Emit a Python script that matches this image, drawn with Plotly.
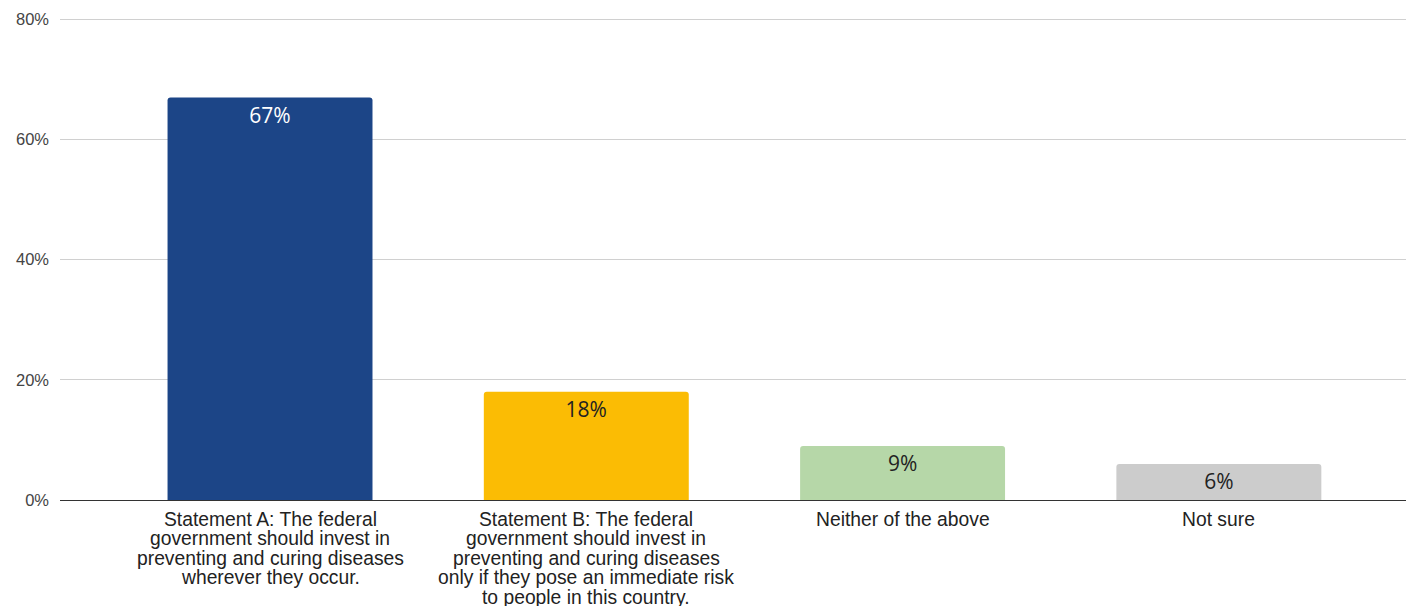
import plotly.graph_objects as go

categories = [
    "Statement A: The federal<br>government should invest in<br>preventing and curing diseases<br>wherever they occur.",
    "Statement B: The federal<br>government should invest in<br>preventing and curing diseases<br>only if they pose an immediate risk<br>to people in this country.",
    "Neither of the above",
    "Not sure",
]
values = [67, 18, 9, 6]
labels = ["67%", "18%", "9%", "6%"]
colors = ["#1c4587", "#fbbc04", "#b6d7a8", "#cccccc"]
label_colors = ["#ffffff", "#222222", "#222222", "#222222"]
y_ticks = [0, 20, 40, 60, 80]
y_tick_text = ["0%", "20%", "40%", "60%", "80%"]

xs = list(range(len(categories)))

fig = go.Figure(
    go.Bar(
        x=xs,
        y=values,
        text=labels,
        textposition="inside",
        insidetextanchor="end",
        textangle=0,
        textfont=dict(family="Open Sans, Noto Sans, sans-serif", size=21, color=label_colors),
        marker=dict(color=colors, line=dict(width=0), cornerradius=3),
        width=0.648,
    )
)

# category labels, one annotation per line for tight line spacing
for i, cat in enumerate(categories):
    for k, line in enumerate(cat.split("<br>")):
        fig.add_annotation(
            x=xs[i], y=0, xref="x", yref="y",
            text=line, showarrow=False,
            xanchor="center", yanchor="middle",
            yshift=-(19 + k * 19.5),
            borderpad=0,
            font=dict(family="Liberation Sans, Arial, sans-serif", size=19.3, color="#222222"),
        )

# page body has an 8px default margin, so the figure is shrunk by 8px
fig.update_layout(
    width=1406,
    height=598,
    margin=dict(l=52, r=0, t=8.6, b=106, pad=0),
    paper_bgcolor="white",
    plot_bgcolor="white",
    showlegend=False,
    font=dict(family="Liberation Sans, Arial, sans-serif", color="#444444"),
)
fig.update_xaxes(
    range=[-0.664, 3.617],
    tickmode="array",
    tickvals=xs,
    showticklabels=False,
    showgrid=False,
    showline=False,
    ticks="",
    automargin=False,
)
fig.update_yaxes(
    range=[0, 80.4],
    tickmode="array",
    tickvals=y_ticks,
    ticktext=y_tick_text,
    tickfont=dict(size=16.5, color="#444444"),
    showgrid=True,
    gridcolor="#d0d0d0",
    gridwidth=1,
    zeroline=True,
    zerolinecolor="#333333",
    zerolinewidth=1,
    ticks="",
    ticklabelstandoff=10,
    automargin=False,
)

fig.write_html("out.html")
